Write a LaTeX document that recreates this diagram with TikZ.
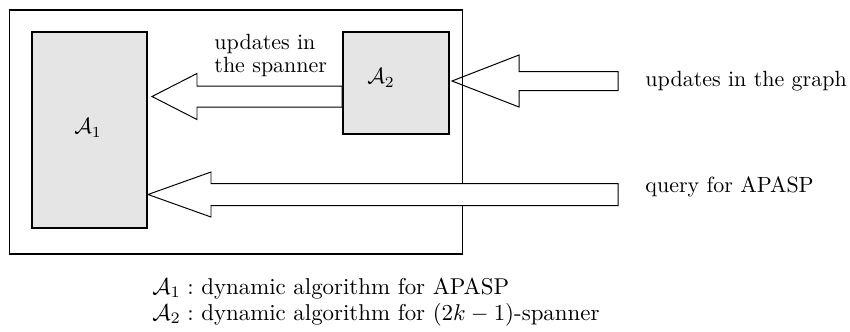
\documentclass[tikz,border=0pt]{standalone}
\usetikzlibrary{calc,fit}
% #1 tip coordinate, #2 tail coordinate, #3 head length, #4 head half-width, #5 shaft half-width, #6 style
\newcommand\blockarrow[6]{%
  \draw[#6] (#1) -- ++(#3,-#4) -- ++(0,#4-#5) -- ($(#2)+(0,-#5)$)
    -- ($(#2)+(0,#5)$) -- ($(#1)+(#3,#5)$) -- ++(0,#4-#5) -- cycle;}
\begin{document}
\begin{tikzpicture}[x=0.4545pt,y=-0.4545pt,
  algbox/.style={draw, line width=0.8pt, fill=black!10, inner sep=0pt},
  framebox/.style={draw, line width=0.8pt, inner sep=0pt},
  barrow/.style={draw, line width=0.45pt, fill=white, line join=miter},
  lbl/.style={anchor=base west, inner sep=0pt},
  leglbl/.style={lbl, scale=1.04, transform shape},
  clbl/.style={inner sep=0pt}]
\useasboundingbox (0,0) rectangle (850,331);

% arrow from the graph (drawn below the frame)
\coordinate (grTip) at (452,81);
\coordinate (grTail) at (618,81);
\blockarrow{grTip}{grTail}{67}{26}{9.5}{barrow}

% frame
\node[framebox, fit={(9.5,10) (462.5,254)}] (frame) {};

% algorithm boxes
\node[algbox, fit={(32,32) (147,228)}] (A1) {};
\node[algbox, fit={(343,32) (449,134)}] (A2) {};
\node[clbl] (A1lab) at (88,128) {$\mathcal{A}_1$};
\node[clbl] (A2lab) at (381,78) {$\mathcal{A}_2$};

% updates in the spanner
\coordinate (spTip) at (152,96.5);
\coordinate (spTail) at (A2.west |- spTip);
\blockarrow{spTip}{spTail}{45}{23}{10.5}{barrow}
\node[lbl] (sp1) at (214,49.5) {updates in};
\node[lbl] (sp2) at (214,72) {the spanner};

% query arrow
\coordinate (qTip) at (148,194.5);
\coordinate (qTail) at (618,194.5);
\blockarrow{qTip}{qTail}{63}{22.5}{11}{barrow}

% outside labels
\node[lbl] (grLab) at (645,86) {updates in the graph};
\node[lbl] (qLab) at (645,192) {query for APASP};

% legend
\node[leglbl] (leg1) at (152,294) {$\mathcal{A}_1:$ dynamic algorithm for APASP};
\node[leglbl] (leg2) at (152,320) {$\mathcal{A}_2:$ dynamic algorithm for $(2k-1)$-spanner};
\end{tikzpicture}
\end{document}
